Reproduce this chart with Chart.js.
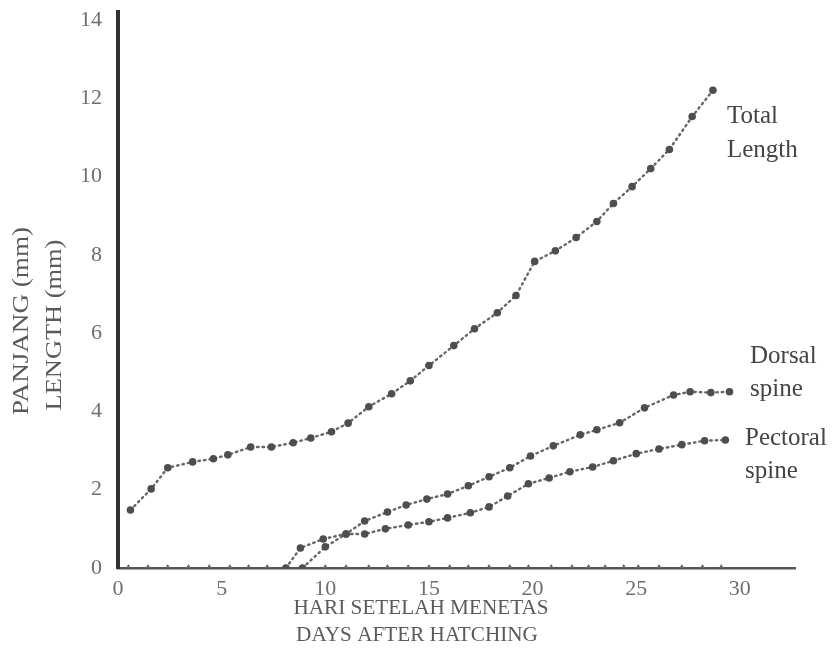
<!DOCTYPE html>
<html>
<head>
<meta charset="utf-8">
<script src="https://cdn.jsdelivr.net/npm/chart.js"></script>
<style>
  html, body { margin: 0; padding: 0; background: #fff; }
  #wrap { width: 836px; height: 656px; }
</style>
</head>
<body>
<div id="wrap"><canvas id="growth-chart" width="836" height="656"></canvas></div>
<script>
// Total length (mm) by day after hatching
const totalDays = [0.6, 1.6, 2.4, 3.6, 4.6, 5.3, 6.4, 7.4, 8.45, 9.3, 10.3, 11.1, 12.1, 13.2, 14.1, 15.0, 16.2, 17.2, 18.3, 19.2, 20.1, 21.1, 22.1, 23.1, 23.9, 24.8, 25.7, 26.6, 27.7, 28.7];
const totalLength = [1.48, 2.02, 2.56, 2.71, 2.79, 2.89, 3.09, 3.09, 3.2, 3.32, 3.48, 3.7, 4.12, 4.45, 4.78, 5.17, 5.68, 6.11, 6.52, 6.96, 7.83, 8.1, 8.44, 8.85, 9.31, 9.74, 10.2, 10.69, 11.53, 12.2];

// Dorsal spine
const dorsalDays = [8.1, 8.8, 9.9, 11.0, 11.9, 13.0, 13.9, 14.9, 15.9, 16.9, 17.9, 18.9, 19.9, 21.0, 22.3, 23.1, 24.2, 25.4, 26.8, 27.6, 28.6, 29.5];
const dorsalLength = [0, 0.51, 0.74, 0.87, 1.2, 1.43, 1.61, 1.76, 1.89, 2.1, 2.33, 2.56, 2.86, 3.12, 3.4, 3.53, 3.71, 4.09, 4.42, 4.5, 4.48, 4.5];

// Pectoral spine
const pectoralDays = [8.9, 10.0, 11.0, 11.9, 12.9, 14.0, 15.0, 15.9, 17.0, 17.9, 18.8, 19.8, 20.8, 21.8, 22.9, 23.9, 25.0, 26.1, 27.2, 28.3, 29.3];
const pectoralLength = [0, 0.54, 0.87, 0.87, 1.0, 1.1, 1.18, 1.28, 1.41, 1.56, 1.84, 2.15, 2.3, 2.46, 2.58, 2.74, 2.92, 3.04, 3.15, 3.25, 3.27];

// sampling days marked on the zero line
const zeroDays = [0.5, 1.45, 2.4, 3.4, 4.4, 5.4, 6.3, 7.2, 8.1, 8.9, 10.0, 11.0, 12.1, 13.0, 14.0, 15.0, 16.0, 16.9, 17.9, 18.9, 19.8, 20.9, 21.9, 22.7, 23.5, 24.4, 25.1, 26.1, 27.2, 28.2, 29.1];

const xTicks = [0, 5, 10, 15, 20, 25, 30];
const yTicks = [0, 2, 4, 6, 8, 10, 12, 14];

const serif = '"Liberation Serif", "DejaVu Serif", serif';

function toPoints(xs, ys) {
    return xs.map((x, i) => ({ x: x, y: ys[i] }));
}

function curve(label, xs, ys) {
    return {
        label: label,
        data: toPoints(xs, ys),
        showLine: true,
        borderColor: '#666',
        borderWidth: 2.4,
        borderDash: [1.5, 4],
        borderCapStyle: 'round',
        pointRadius: 3.8,
        pointBackgroundColor: '#4e4e4e',
        pointBorderWidth: 0,
        tension: 0
    };
}

// text drawn slightly stretched along its baseline, as in the printed figure
function stretchedText(ctx, text, x, y, stretch, angle) {
    ctx.save();
    ctx.translate(x, y);
    if (angle) ctx.rotate(angle);
    ctx.scale(stretch, 1);
    ctx.fillText(text, 0, 0);
    ctx.restore();
}

// axis titles and curve names
const labelsPlugin = {
    id: 'figureLabels',
    afterDraw(chart) {
        const ctx = chart.ctx;
        ctx.save();
        ctx.fillStyle = '#5a5a5a';
        ctx.textAlign = 'center';
        ctx.textBaseline = 'middle';

        ctx.font = '20px ' + serif;
        stretchedText(ctx, 'HARI SETELAH MENETAS', 421, 609, 1.06);
        stretchedText(ctx, 'DAYS AFTER HATCHING', 417, 636, 1.06);

        ctx.font = '24px ' + serif;
        stretchedText(ctx, 'PANJANG (mm)', 22, 321, 1.13, -Math.PI / 2);
        stretchedText(ctx, 'LENGTH (mm)', 55, 325, 1.1, -Math.PI / 2);

        ctx.fillStyle = '#444';
        ctx.textAlign = 'left';
        ctx.font = '25px ' + serif;
        ctx.fillText('Total', 727, 116);
        ctx.fillText('Length', 727, 150);
        ctx.fillText('Dorsal', 750, 356);
        ctx.fillText('spine', 750, 389);
        ctx.fillText('Pectoral', 745, 438);
        ctx.fillText('spine', 745, 471);
        ctx.restore();
    }
};

document.addEventListener('DOMContentLoaded', function() {
    const ctx = document.getElementById('growth-chart').getContext('2d');

    new Chart(ctx, {
        type: 'scatter',
        data: {
            datasets: [
                curve('Total Length', totalDays, totalLength),
                curve('Dorsal spine', dorsalDays, dorsalLength),
                curve('Pectoral spine', pectoralDays, pectoralLength),
                {
                    label: 'zero',
                    data: zeroDays.map(d => ({ x: d, y: 0 })),
                    pointStyle: 'triangle',
                    pointRadius: 4,
                    pointBackgroundColor: '#666',
                    pointBorderWidth: 0
                }
            ]
        },
        options: {
            responsive: false,
            animation: false,
            layout: { padding: { left: 0, top: 0, right: 41, bottom: 0 } },
            plugins: {
                legend: { display: false },
                tooltip: { enabled: false }
            },
            scales: {
                x: {
                    type: 'linear',
                    min: 0,
                    max: 32.66,
                    afterFit: function(scale) { scale.height = 88; },
                    afterBuildTicks: function(scale) {
                        scale.ticks = xTicks.map(v => ({ value: v }));
                    },
                    grid: { display: false, drawTicks: false },
                    border: { display: true, color: '#555', width: 2.5 },
                    ticks: {
                        padding: 8,
                        color: '#6e6e6e',
                        font: { family: serif, size: 22 }
                    }
                },
                y: {
                    min: 0,
                    max: 14.2,
                    afterFit: function(scale) {
                        scale.width = 118;
                        scale.paddingTop = 12;
                    },
                    afterBuildTicks: function(scale) {
                        scale.ticks = yTicks.map(v => ({ value: v }));
                    },
                    grid: { display: false, drawTicks: false },
                    border: { display: true, color: '#333', width: 4 },
                    ticks: {
                        padding: 16,
                        color: '#6e6e6e',
                        font: { family: serif, size: 22, lineHeight: 1.0 }
                    }
                }
            }
        },
        plugins: [labelsPlugin]
    });
});
</script>
</body>
</html>
